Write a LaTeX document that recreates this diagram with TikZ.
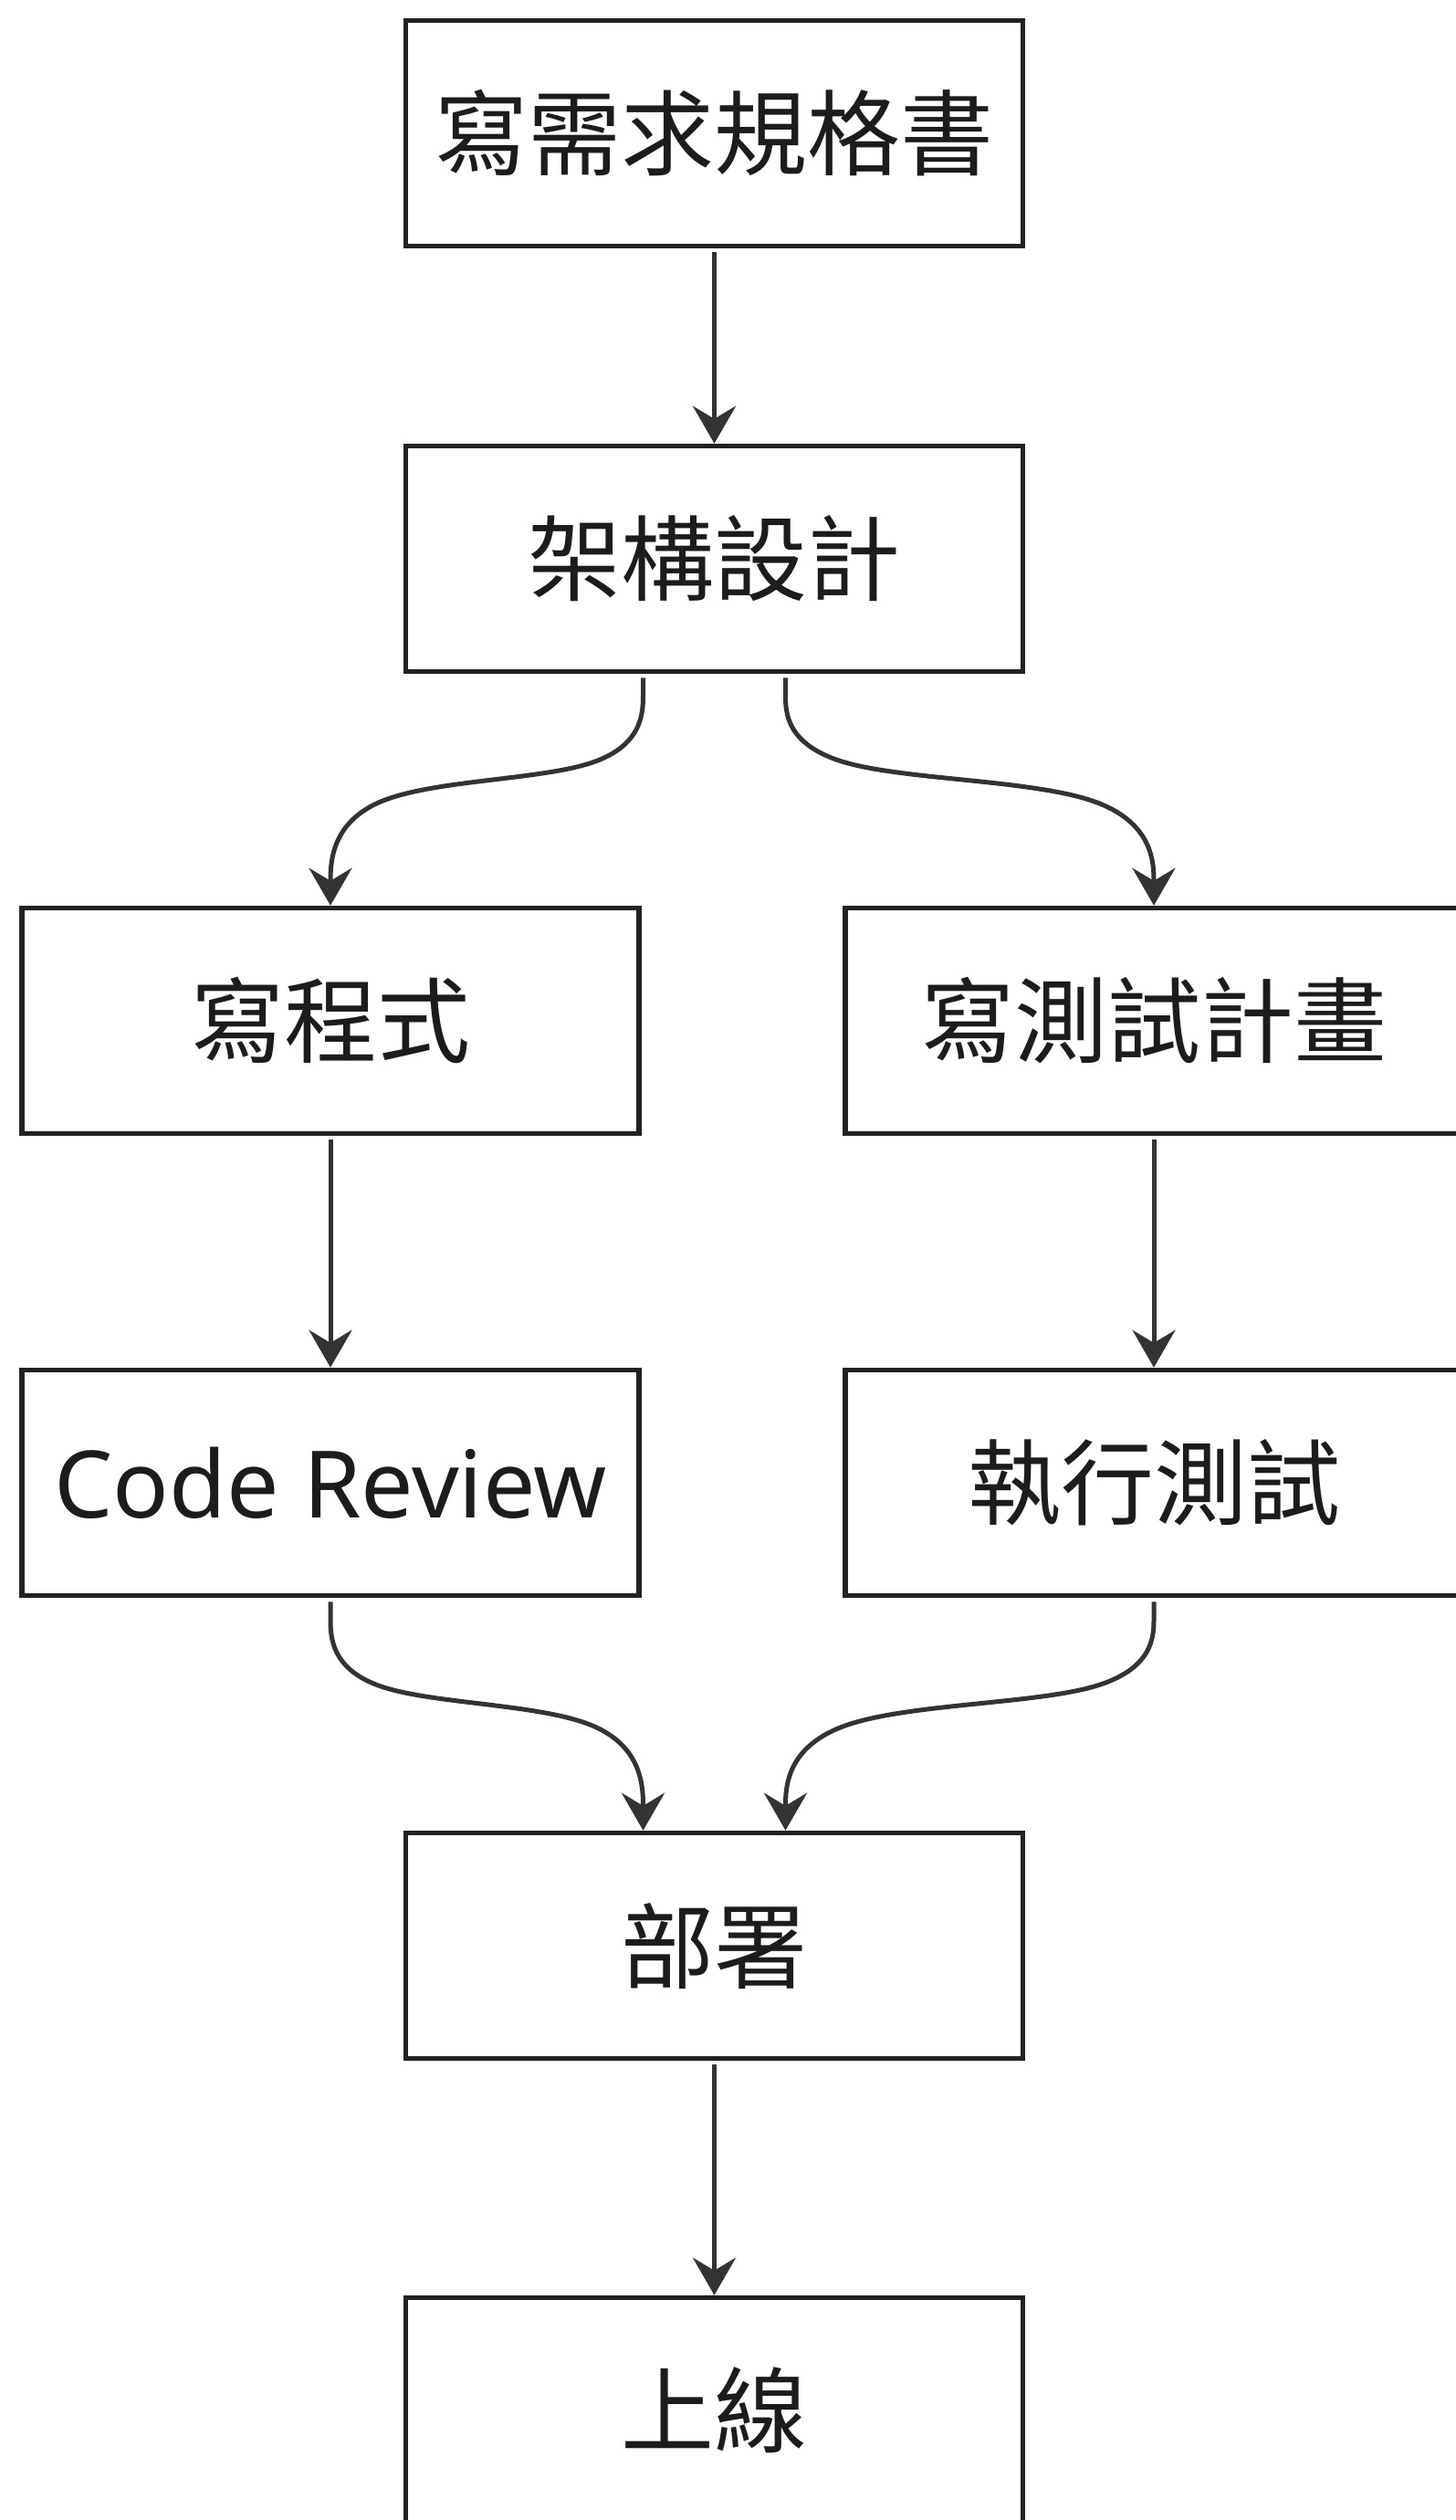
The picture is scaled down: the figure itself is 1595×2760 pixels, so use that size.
\documentclass[tikz,border=0pt]{standalone}
\usepackage{fontspec}
\newfontfamily\cjkfont{Noto Sans CJK TC}
\newfontfamily\latinfont{Noto Sans}
\usetikzlibrary{arrows.meta,calc}
\definecolor{edgegray}{HTML}{333333}
\definecolor{boxline}{HTML}{222222}
\definecolor{labelink}{HTML}{1C1C1C}

\begin{document}
\begin{tikzpicture}[x=1pt,y=-1pt,
  stage/.style={draw=boxline, line width=5.5pt, fill=white,
    minimum width=676pt, minimum height=247pt, inner sep=0pt,
    text=labelink, font=\cjkfont\fontsize{102pt}{110pt}\selectfont},
  latinlabel/.style={font=\latinfont\fontsize{102pt}{110pt}\selectfont},
  flow/.style={draw=edgegray, line width=5pt,
    -{Stealth[length=41pt,width=47pt,inset=14pt]}},
  % B-spline style connector: vertical out, gentle S, vertical in
  basis/.style={to path={
    let \p1=(\tikztostart), \p3=(\tikztotarget),
        \p2=(\x1,{(\y1)-112pt}) in
    -- (\x1,{(5*(\y1)+(\y2))/6})
    .. controls (\x1,{(2*(\y1)+(\y2))/3}) and (\x1,{((\y1)+2*(\y2))/3})
    .. ({(5*(\x1)+(\x3))/6},{((\y1)+5*(\y2))/6})
    .. controls ({(2*(\x1)+(\x3))/3},\y2) and ({((\x1)+2*(\x3))/3},\y2)
    .. ({((\x1)+5*(\x3))/6},{(5*(\y2)+(\y3))/6})
    .. controls (\x3,{(2*(\y2)+(\y3))/3}) and (\x3,{((\y2)+2*(\y3))/3})
    .. (\x3,\y3)
  }}
]
\useasboundingbox (0,0) rectangle (1595,2760);
\fill[white] (0,0) rectangle (1595,2760);

% process stages
\node[stage] (b1)  at (782.5,146)  {寫需求規格書};
\node[stage] (b2)  at (782.5,612)  {架構設計};
\node[stage] (b3l) at (362,1118)   {寫程式};
\node[stage] (b3r) at (1264,1118)  {寫測試計畫};
\node[stage,latinlabel] (b4l) at (362,1624) {Code Review};
\node[stage] (b4r) at (1264,1624)  {執行測試};
\node[stage] (b5)  at (782.5,2131) {部署};
\node[stage] (b6)  at (782.5,2640) {上線};

% connectors
\draw[flow, shorten <=4pt] (b1) -- (b2);
\draw[flow] ([xshift=-78pt,yshift=-4pt]b2.south) to[basis] (b3l.north);
\draw[flow] ([xshift=78pt,yshift=-4pt]b2.south) to[basis] (b3r.north);
\draw[flow, shorten <=4pt] (b3l) -- (b4l);
\draw[flow, shorten <=4pt] (b3r) -- (b4r);
\draw[flow] ([yshift=-4pt]b4l.south) to[basis] ([xshift=-78pt]b5.north);
\draw[flow] ([yshift=-4pt]b4r.south) to[basis] ([xshift=78pt]b5.north);
\draw[flow, shorten <=4pt] (b5) -- (b6);
\end{tikzpicture}
\end{document}
